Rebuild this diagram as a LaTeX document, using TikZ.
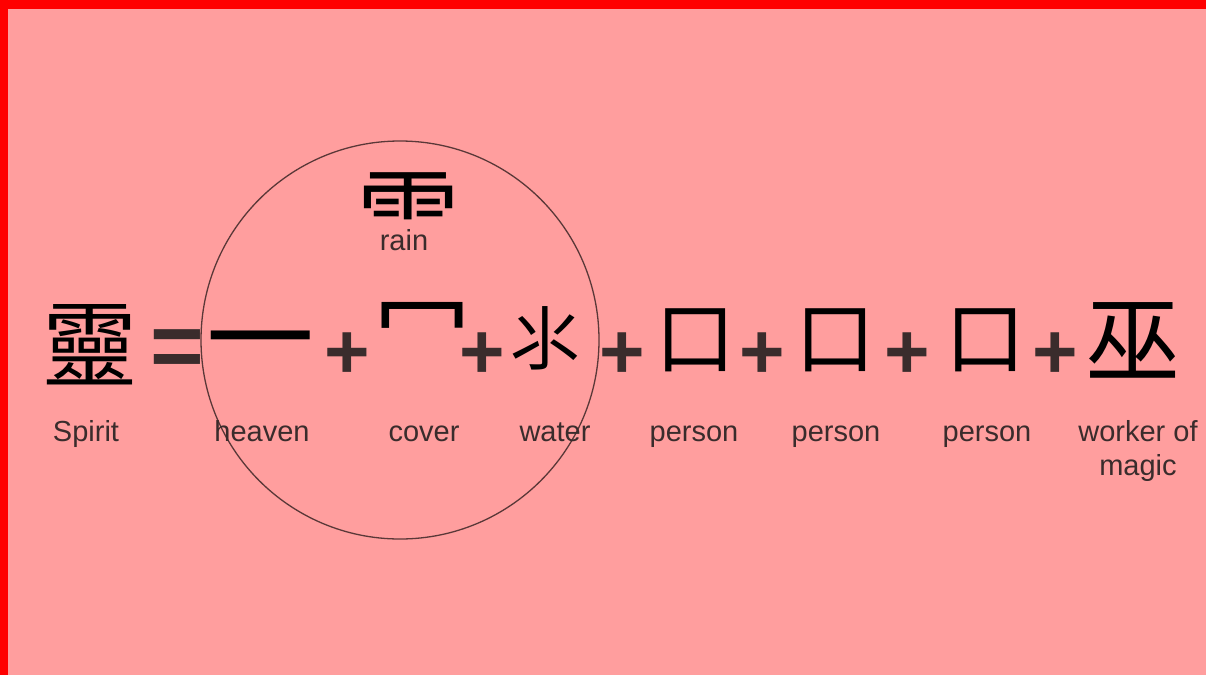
\documentclass[tikz,border=0pt]{standalone}
\usepackage{fontspec}
\setmainfont{Liberation Sans}
\newfontfamily\cjk{Noto Sans CJK TC}
\definecolor{bgpink}{HTML}{FF9E9E}
\definecolor{ink}{HTML}{3A2C2C}
\definecolor{ringc}{HTML}{5A3838}
\tikzset{
  label/.style={font=\fontsize{29}{34}\selectfont, text=ink, inner sep=0pt, align=center, anchor=base},
  hanzi/.style={font=\cjk\fontsize{95}{95}\selectfont, text=black, inner sep=0pt},
  op/.style={font=\bfseries\fontsize{78}{78}\selectfont, text=ink, inner sep=0pt}
}
\begin{document}
\begin{tikzpicture}[x=1pt,y=-1pt]
\useasboundingbox (0,0) rectangle (1206,675);
\fill[bgpink] (0,0) rectangle (1206,675);
\fill[red] (0,0) rectangle (1206,9);
\fill[red] (0,0) rectangle (8,675);
\node[circle, draw=ringc, line width=1.3pt, minimum size=398pt, inner sep=0pt] (ring) at (400,340) {};
\node[hanzi, font=\cjk\fontsize{104}{104}\selectfont] (rainc) at (408,214) {⻗};
\node[label] (rainl) at (404,250) {rain};
\node[hanzi] (ling) at (90,345) {靈};
\node[op, font=\bfseries\fontsize{92}{92}\selectfont] (eq) at (177,354) {=};
\node[hanzi, font=\cjk\fontsize{108}{108}\selectfont] (yi) at (260,354) {一};
\node[op] (p1) at (347,356) {+};
\node[hanzi, font=\cjk\fontsize{98}{98}\selectfont] (mi) at (422,330) {冖};
\node[op] (p2) at (482,356) {+};
\node[hanzi, font=\cjk\fontsize{70}{70}\selectfont] (shui) at (545,338) {⺢};
\node[op] (p3) at (622,356) {+};
\node[hanzi, font=\cjk\fontsize{80}{80}\selectfont] (k1) at (695,340) {口};
\node[op] (p4) at (762,356) {+};
\node[hanzi, font=\cjk\fontsize{80}{80}\selectfont] (k2) at (835,340) {口};
\node[op] (p5) at (907,356) {+};
\node[hanzi, font=\cjk\fontsize{80}{80}\selectfont] (k3) at (985,340) {口};
\node[op] (p6) at (1055,356) {+};
\node[hanzi] (wu) at (1133,340) {巫};
\node[label] (l1) at (86,441) {Spirit};
\node[label] (l2) at (262,441) {heaven};
\node[label] (l3) at (424,441) {cover};
\node[label] (l4) at (555,441) {water};
\node[label] (l5) at (694,441) {person};
\node[label] (l6) at (836,441) {person};
\node[label] (l7) at (987,441) {person};
\node[label] (l8) at (1138,441) {worker of};
\node[label] (l9) at (1138,475) {magic};
\end{tikzpicture}
\end{document}
